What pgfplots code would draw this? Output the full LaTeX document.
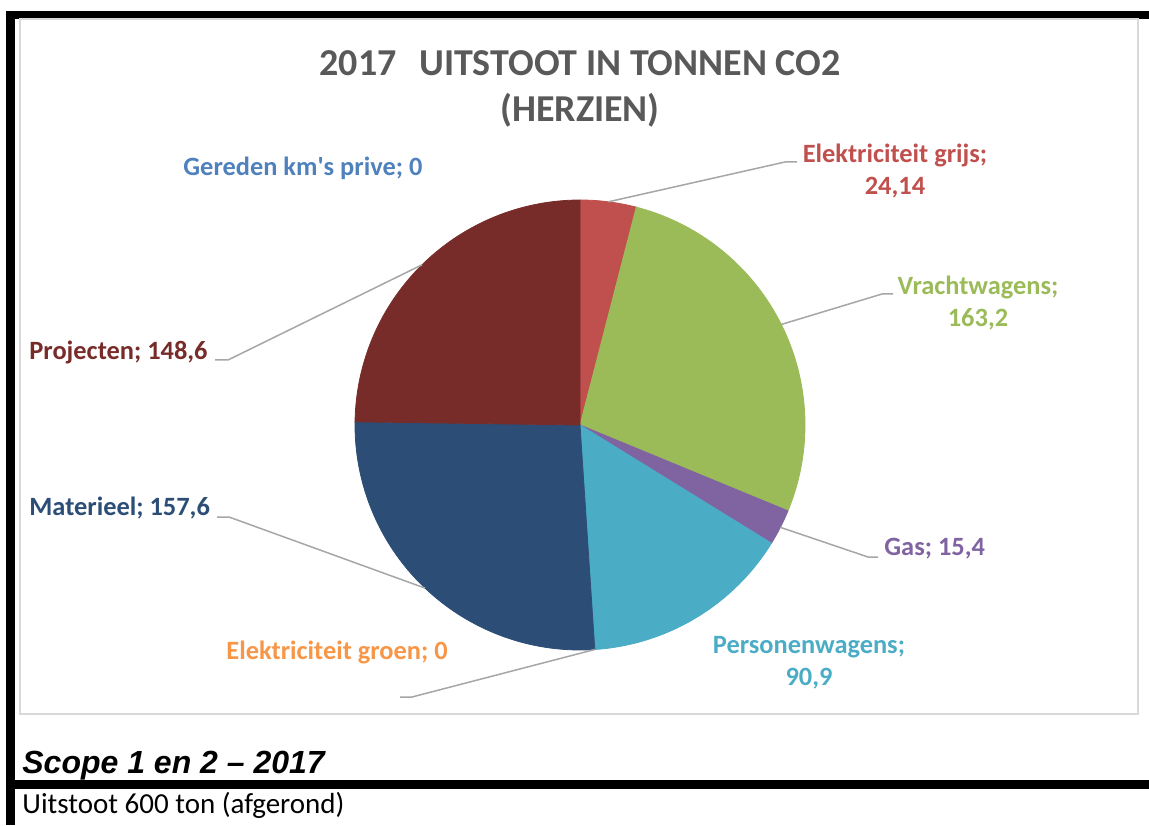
\documentclass[border=0pt]{standalone}
\usepackage{pgfplots}
\pgfplotsset{compat=1.18}
\usepackage{pgfplotstable}
\usepackage{fontspec}
\setmainfont{Carlito}
\newfontfamily\arialfont{Liberation Sans}

\definecolor{cPrive}{HTML}{4F81BD}
\definecolor{cGrijs}{HTML}{C0504D}
\definecolor{cVracht}{HTML}{9BBB59}
\definecolor{cGas}{HTML}{8064A2}
\definecolor{cPersonen}{HTML}{4BACC6}
\definecolor{cGroen}{HTML}{F79646}
\definecolor{cMaterieel}{HTML}{2C4D75}
\definecolor{cProjecten}{HTML}{772C2A}
\definecolor{cTitle}{HTML}{595959}
\definecolor{cLeader}{HTML}{A6A6A6}
\definecolor{cFrame}{HTML}{D9D9D9}

% 0 Gereden km's prive, 1 Elektriciteit grijs, 2 Vrachtwagens, 3 Gas,
% 4 Personenwagens, 5 Elektriciteit groen, 6 Materieel, 7 Projecten
\pgfplotstableread{
idx value
0 0
1 24.14
2 163.2
3 15.4
4 90.9
5 0
6 157.6
7 148.6
}\pietable

\def\total{0}
\pgfplotsforeachungrouped \i in {0,...,7}{%
  \pgfplotstablegetelem{\i}{value}\of\pietable
  \pgfmathsetmacro\total{\total+\pgfplotsretval}%
  \expandafter\xdef\csname cum\i\endcsname{\total}%
}
\pgfplotsforeachungrouped \i in {0,...,7}{%
  \pgfmathsetmacro\tmp{90-(\csname cum\i\endcsname/\total)*360}%
  \expandafter\xdef\csname ang\i\endcsname{\tmp}%
}
\newcommand\A[1]{\csname ang#1\endcsname}

\begin{document}
\begin{tikzpicture}
\begin{axis}[
  scale only axis, width=574.5pt, height=412.5pt,
  xmin=0, xmax=1149, ymin=0, ymax=825,
  hide axis, clip=false,
]
\path (0,0) rectangle (1149,825);
% page borders
\fill[black] (6,814) rectangle (1149,806);
\fill[black] (6,814) rectangle (15,0);
\fill[black] (6,45) rectangle (1149,36);
\draw[cFrame, line width=1pt] (20,806) rectangle (1138,111);

% pie slices
\addplot[draw=cGrijs, line width=0.4pt, fill=cGrijs, domain=\A{1}:\A{0}, samples=30, variable=\t]
  ({580+225*cos(\t)},{400+225*sin(\t)}) -- (580,400) -- cycle;
\addplot[draw=cVracht, line width=0.4pt, fill=cVracht, domain=\A{2}:\A{1}, samples=80, variable=\t]
  ({580+225*cos(\t)},{400+225*sin(\t)}) -- (580,400) -- cycle;
\addplot[draw=cGas, line width=0.4pt, fill=cGas, domain=\A{3}:\A{2}, samples=20, variable=\t]
  ({580+225*cos(\t)},{400+225*sin(\t)}) -- (580,400) -- cycle;
\addplot[draw=cPersonen, line width=0.4pt, fill=cPersonen, domain=\A{4}:\A{3}, samples=50, variable=\t]
  ({580+225*cos(\t)},{400+225*sin(\t)}) -- (580,400) -- cycle;
\addplot[draw=cMaterieel, line width=0.4pt, fill=cMaterieel, domain=\A{6}:\A{5}, samples=80, variable=\t]
  ({580+225*cos(\t)},{400+225*sin(\t)}) -- (580,400) -- cycle;
\addplot[draw=cProjecten, line width=0.4pt, fill=cProjecten, domain=\A{7}:\A{6}, samples=80, variable=\t]
  ({580+225*cos(\t)},{400+225*sin(\t)}) -- (580,400) -- cycle;

% leader lines
\draw[cLeader, line width=0.75pt] ({580+225*cos((\A{0}+\A{1})/2)},{400+225*sin((\A{0}+\A{1})/2)}) -- (785,663) -- (797,663);
\draw[cLeader, line width=0.75pt] ({580+225*cos((\A{1}+\A{2})/2)},{400+225*sin((\A{1}+\A{2})/2)}) -- (882,531) -- (893,531);
\draw[cLeader, line width=0.75pt] ({580+225*cos((\A{2}+\A{3})/2)},{400+225*sin((\A{2}+\A{3})/2)}) -- (868,268) -- (878,268);
\draw[cLeader, line width=0.75pt] ({580+225*cos(\A{5})},{400+225*sin(\A{5})}) -- (412,128) -- (400,128);
\draw[cLeader, line width=0.75pt] ({580+225*cos((\A{5}+\A{6})/2)},{400+225*sin((\A{5}+\A{6})/2)}) -- (229,308) -- (217,308);
\draw[cLeader, line width=0.75pt] ({580+225*cos((\A{6}+\A{7})/2)},{400+225*sin((\A{6}+\A{7})/2)}) -- (228,465) -- (215,465);

% title
\node[font=\bfseries\fontsize{19}{23}\selectfont, text=cTitle, align=center, inner sep=0pt] at (580,736)
  {2017\hspace{0.6em}UITSTOOT IN TONNEN CO2\\(HERZIEN)};

% data labels
\begin{scope}[every node/.style={font=\bfseries\fontsize{13.2}{16}\selectfont, inner sep=0pt, align=center}]
\node[text=cPrive, anchor=west] at (183,657) {Gereden km\textquotesingle s prive; 0};
\node[text=cGrijs] at (895,654) {Elektriciteit grijs;\\24,14};
\node[text=cVracht] at (978,522) {Vrachtwagens;\\163,2};
\node[text=cGas, anchor=west] at (884,276) {Gas; 15,4};
\node[text=cPersonen] at (809,162) {Personenwagens;\\90,9};
\node[text=cGroen, anchor=west] at (226,173) {Elektriciteit groen; 0};
\node[text=cMaterieel, anchor=west] at (29,317) {Materieel; 157,6};
\node[text=cProjecten, anchor=west] at (29,473) {Projecten; 148,6};
\end{scope}

% captions below the chart
\node[font=\arialfont\bfseries\itshape\fontsize{16}{19}\selectfont, anchor=base west, inner sep=0pt] at (22,52) {Scope 1 en 2 – 2017};
\node[font=\fontsize{14.5}{17}\selectfont, anchor=base west, inner sep=0pt] at (22,12) {Uitstoot 600 ton (afgerond)};
\end{axis}
\end{tikzpicture}
\end{document}
